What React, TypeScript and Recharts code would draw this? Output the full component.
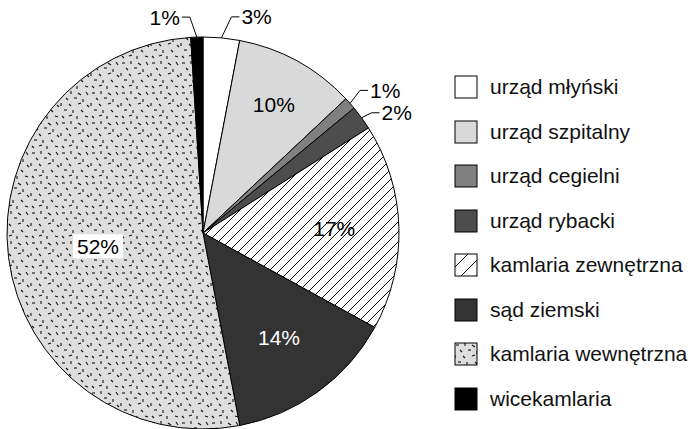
import { PieChart, Pie, Cell, Legend } from 'recharts';

const categories = [
  'urząd młyński',
  'urząd szpitalny',
  'urząd cegielni',
  'urząd rybacki',
  'kamlaria zewnętrzna',
  'sąd ziemski',
  'kamlaria wewnętrzna',
  'wicekamlaria',
];
const shares = [3, 10, 1, 2, 17, 14, 52, 1];

const fills = ['#ffffff', '#d9d9d9', '#808080', '#4d4d4d', 'url(#hatch)', '#333333', 'url(#dash)', '#000000'];
const legendFills = ['#ffffff', '#d9d9d9', '#808080', '#4d4d4d', 'url(#hatchL)', '#333333', 'url(#dashL)', '#000000'];

const data = categories.map((name, i) => ({ name, value: shares[i] }));

// label placement per slice
const labelCfg: any[] = [
  { out: true, ex: 10, ey: -21, h: 8 },
  { rf: 0.75 },
  { out: true, ex: 10, ey: -13, h: 8 },
  { out: true, ex: 10, ey: -5, h: 8 },
  { rf: 0.67 },
  { rf: 0.66, color: '#fff' },
  { rf: 0.54, box: true },
  { out: true, ex: -7, ey: -20, h: -8 },
];

const RADIAN = Math.PI / 180;
const FONT = 'Liberation Sans, Arial, sans-serif';

// short random-looking dashes for the texture tile (30x30)
const dashes = [
  [2, 3, 5, 3], [11, 1, 11, 4], [18, 3, 21, 5], [26, 2, 28, 5], [6, 8, 8, 10],
  [14, 8, 17, 8], [23, 9, 23, 12], [1, 13, 1, 16], [9, 14, 11, 16], [18, 14, 21, 13],
  [27, 15, 29, 17], [4, 20, 7, 20], [13, 20, 13, 23], [21, 20, 23, 22], [2, 26, 4, 28],
  [9, 26, 12, 25], [17, 26, 17, 29], [25, 26, 28, 27],
];

const Defs = ({ suffix = '', step = 10 }: { suffix?: string; step?: number }) => (
  <defs>
    <pattern id={'hatch' + suffix} patternUnits="userSpaceOnUse" width={step} height={step}>
      <rect width={step} height={step} fill="#fff" />
      <path
        d={`M0,${step} L${step},0 M-2,2 L2,-2 M${step - 2},${step + 2} L${step + 2},${step - 2}`}
        stroke="#000"
        strokeWidth={1}
      />
    </pattern>
    <pattern id={'dash' + suffix} patternUnits="userSpaceOnUse" width={30} height={30}>
      <rect width={30} height={30} fill="#dedede" />
      {dashes.map((d, i) => (
        <line key={i} x1={d[0]} y1={d[1]} x2={d[2]} y2={d[3]} stroke="#111" strokeWidth={1.1} />
      ))}
    </pattern>
  </defs>
);

const renderLabel = (props: any) => {
  const { cx, cy, midAngle, outerRadius, index, value } = props;
  const cfg = labelCfg[index];
  const cos = Math.cos(-midAngle * RADIAN);
  const sin = Math.sin(-midAngle * RADIAN);
  const text = `${value}%`;
  if (cfg.out) {
    const sx = cx + outerRadius * cos;
    const sy = cy + outerRadius * sin;
    const mx = sx + cfg.ex;
    const my = sy + cfg.ey;
    const exx = mx + cfg.h;
    return (
      <g>
        <polyline points={`${sx},${sy} ${mx},${my} ${exx},${my}`} fill="none" stroke="#000" strokeWidth={1} />
        <text
          x={exx + (cfg.h > 0 ? 2 : -2)}
          y={my}
          textAnchor={cfg.h > 0 ? 'start' : 'end'}
          dominantBaseline="central"
          fontSize={21}
          fontFamily={FONT}
          fill="#000"
        >
          {text}
        </text>
      </g>
    );
  }
  const r = outerRadius * cfg.rf;
  const x = cx + r * cos;
  const y = cy + r * sin;
  return (
    <g>
      {cfg.box && <rect x={x - 25} y={y - 12} width={50} height={24} fill="#fff" />}
      <text
        x={x}
        y={y}
        textAnchor="middle"
        dominantBaseline="central"
        fontSize={21}
        fontFamily={FONT}
        fill={cfg.color || '#000'}
      >
        {text}
      </text>
    </g>
  );
};

const renderLegend = () => (
  <div style={{ fontFamily: FONT, fontSize: 21, color: '#111' }}>
    <svg width={0} height={0} style={{ position: 'absolute' }}>
      <Defs suffix="L" step={15} />
    </svg>
    {categories.map((c, i) => (
      <div key={c} style={{ display: 'flex', alignItems: 'center', height: 44.5 }}>
        <svg width={24} height={24} style={{ marginRight: 12 }}>
          <rect x={1} y={1} width={22} height={22} fill={legendFills[i]} stroke="#000" strokeWidth={1} />
        </svg>
        <span>{c}</span>
      </div>
    ))}
  </div>
);

const App = () => {
  return (
    <div style={{ position: 'absolute', left: 0, top: 0, background: '#fff' }}>
      <PieChart width={692} height={429} margin={{ top: 0, right: 0, bottom: 0, left: 0 }}>
        <Defs />
        <Pie
          data={data}
          dataKey="value"
          nameKey="name"
          cx={203}
          cy={233}
          outerRadius={196}
          startAngle={90}
          endAngle={-270}
          stroke="#000"
          strokeWidth={1}
          label={renderLabel}
          labelLine={false}
          isAnimationActive={false}
        >
          {data.map((d, i) => (
            <Cell key={d.name} fill={fills[i]} />
          ))}
        </Pie>
        <Legend
          layout="vertical"
          content={renderLegend}
          wrapperStyle={{ position: 'absolute', left: 454, top: 65, width: 240 }}
        />
      </PieChart>
    </div>
  );
};

export default App;
